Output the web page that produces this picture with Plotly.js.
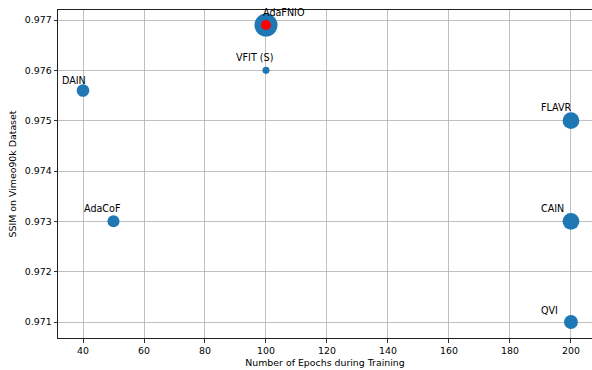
<!DOCTYPE html>
<html>
<head>
<meta charset="utf-8">
<script src="https://cdn.plot.ly/plotly-3.0.1.min.js"></script>
<style>html,body{margin:0;padding:0;background:#fff;}#chart{width:592px;height:370px;}</style>
</head>
<body>
<div id="chart"></div>
<script>
// ---- data ----
const models = ["DAIN", "AdaCoF", "VFIT (S)", "AdaFNIO", "FLAVR", "CAIN", "QVI"];
const epochs = [40, 50, 100, 100, 200, 200, 200];
const ssim = [0.9756, 0.9730, 0.9760, 0.9769, 0.9750, 0.9730, 0.9710];
const params = [24.0, 21.8, 7.5, 80.0, 42.4, 42.8, 29.2]; // bubble size (model parameters, M)
const highlight = "AdaFNIO";

// label offsets (pixels) relative to each point
const labelDx = [-23, -32, -32, -5, -32, -32, -32];
const labelDy = [10, 13, 13, 13, 13, 13, 12];

const FONT = "DejaVu Sans, Liberation Sans, sans-serif";
const hi = models.indexOf(highlight);

const traces = [
  {
    type: "scatter", mode: "markers",
    x: epochs, y: ssim, text: models,
    marker: {
      color: "#1f77b4",
      opacity: 1,
      size: params,
      sizemode: "area",
      sizeref: 0.301,
      line: {width: 0}
    },
    hoverinfo: "text+x+y"
  },
  {
    type: "scatter", mode: "markers",
    x: [epochs[hi]], y: [ssim[hi]],
    marker: {color: "#ff0000", opacity: 1, size: 10, line: {width: 0}},
    hoverinfo: "skip"
  }
];

const annotations = models.map((m, i) => ({
  x: epochs[i], y: ssim[i], xref: "x", yref: "y",
  text: m, showarrow: false,
  xanchor: "left", yanchor: "middle",
  xshift: labelDx[i], yshift: labelDy[i],
  font: {family: FONT, size: 9.6, color: "#000"}
}));

const layout = {
  width: 592, height: 370,
  margin: {l: 58, r: 0, t: 10, b: 32, pad: 0},
  paper_bgcolor: "#fff", plot_bgcolor: "#fff",
  showlegend: false,
  font: {family: FONT, size: 9.4, color: "#000"},
  xaxis: {
    range: [31.8, 206.9],
    tickmode: "array",
    tickvals: [40, 60, 80, 100, 120, 140, 160, 180, 200],
    ticks: "outside", ticklen: 3.5, tickcolor: "#000", tickwidth: 0.8,
    showgrid: true, gridcolor: "#b0b0b0", gridwidth: 0.8,
    showline: true, linecolor: "#222", linewidth: 1, mirror: true,
    zeroline: false, layer: "above traces",
    tickfont: {family: FONT, size: 9.4, color: "#000"},
    title: {text: "Number of Epochs during Training", font: {family: FONT, size: 9.4, color: "#000"}, standoff: 4}
  },
  yaxis: {
    range: [0.970682, 0.977199],
    tickmode: "array",
    tickvals: [0.971, 0.972, 0.973, 0.974, 0.975, 0.976, 0.977],
    tickformat: ".3f",
    ticks: "outside", ticklen: 3.5, tickcolor: "#000", tickwidth: 0.8,
    showgrid: true, gridcolor: "#b0b0b0", gridwidth: 0.8,
    showline: true, linecolor: "#222", linewidth: 1, mirror: false,
    zeroline: false, layer: "above traces",
    tickfont: {family: FONT, size: 9.4, color: "#000"},
    title: {text: "SSIM on Vimeo90k Dataset", font: {family: FONT, size: 9.4, color: "#000"}, standoff: 6}
  },
  annotations: annotations
};

Plotly.newPlot("chart", traces, layout, {displayModeBar: false, staticPlot: true});
</script>
</body>
</html>
